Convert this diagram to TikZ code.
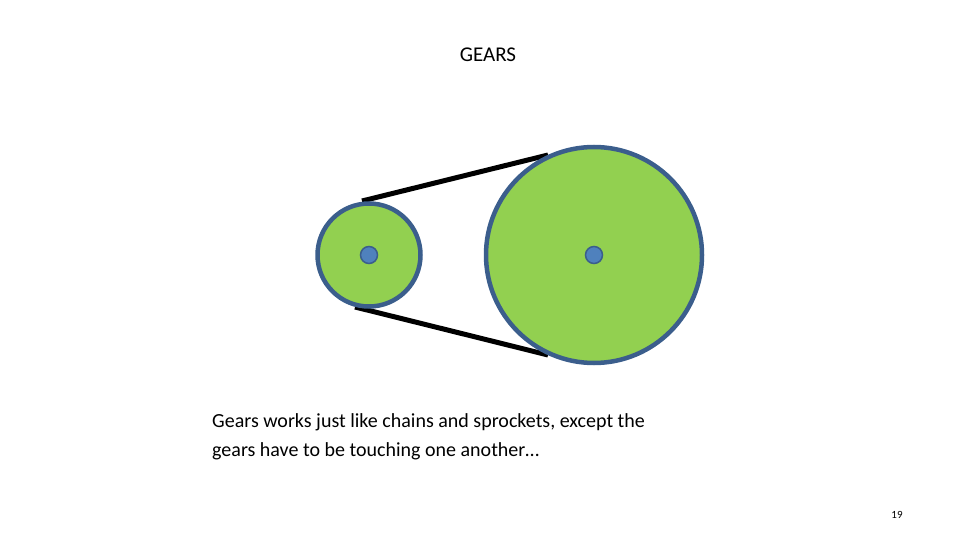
\documentclass[tikz,border=0pt]{standalone}
\usepackage{fontspec}
\setmainfont{Carlito}
\definecolor{gfill}{HTML}{92D050}
\definecolor{gline}{HTML}{3B5E8C}
\definecolor{hub}{HTML}{4F81BD}
\begin{document}
\begin{tikzpicture}[x=1pt,y=-1pt,
  gear/.style={circle,draw=gline,line width=4.5pt,fill=gfill,inner sep=0pt},
  hubc/.style={circle,draw=gline,line width=1.5pt,fill=hub,minimum size=17pt,inner sep=0pt},
  belt/.style={line width=5pt,black}]
\useasboundingbox (0,0) rectangle (960,540);
\coordinate (t1) at (362,201);
\coordinate (t2) at (548,155);
\coordinate (b1) at (355,307);
\coordinate (b2) at (548,355);
\draw[belt] (t1) -- (t2);
\draw[belt] (b1) -- (b2);
\node[gear,minimum size=103pt] (small) at (369,255) {};
\node[gear,minimum size=216pt] (big) at (594,255) {};
\node[hubc] (h1) at (small) {};
\node[hubc] (h2) at (big) {};
\node[font=\fontsize{21pt}{25pt}\selectfont] (title) at (488,55) {GEARS};
\node[anchor=north west,align=left,inner sep=0pt,font=\fontsize{20pt}{29pt}\selectfont] (body) at (212,413)
  {Gears works just like chains and sprockets, except the\\gears have to be touching one another\ldots};
\node[font=\fontsize{11pt}{13pt}\selectfont] (pg) at (897,515) {19};
\end{tikzpicture}
\end{document}
